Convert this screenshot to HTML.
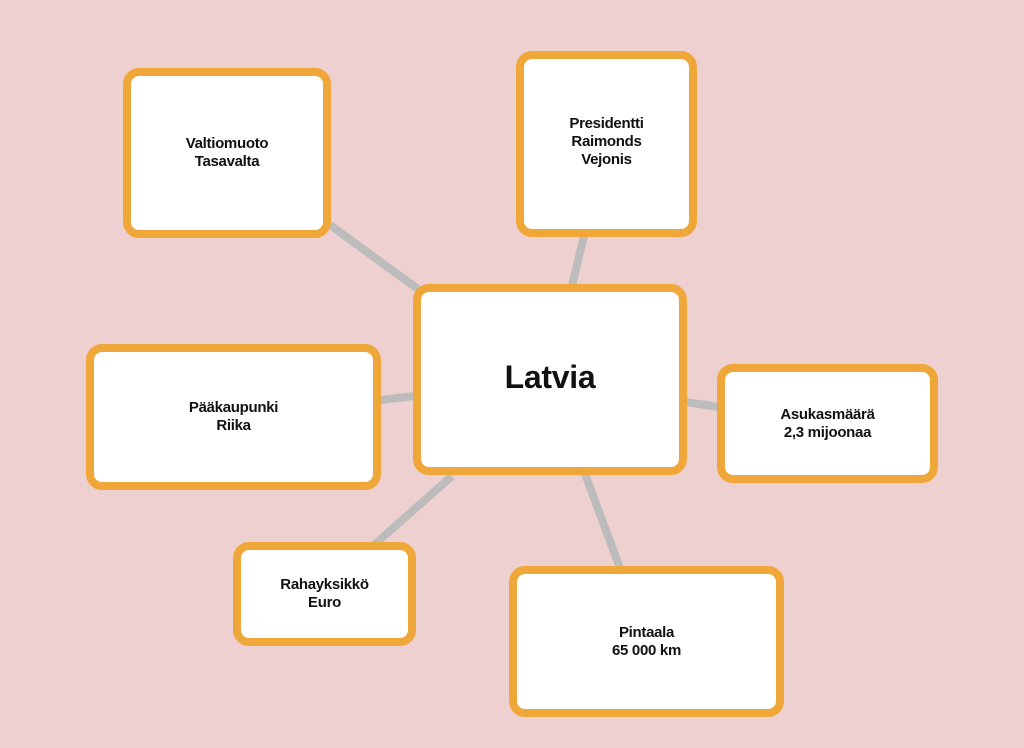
<!DOCTYPE html>
<html><head><meta charset="utf-8"><style>
html,body{margin:0;padding:0}
body{width:1024px;height:748px;background:#eed0d0;position:relative;overflow:hidden;font-family:"Liberation Sans",sans-serif}
.b{position:absolute;box-sizing:border-box;background:#fff;border:8px solid #f0a73a;border-radius:16px;display:flex;align-items:center;justify-content:center;text-align:center;font-weight:bold;font-size:15px;line-height:18px;color:#111;letter-spacing:-0.3px}
svg{position:absolute;left:0;top:0}
</style></head><body>
<svg width="1024" height="748"><g stroke="#bcbcbc" stroke-width="8" stroke-linecap="butt">
<line x1="330" y1="225" x2="422" y2="292"/>
<line x1="584" y1="236" x2="572" y2="286"/>
<line x1="380" y1="400" x2="415" y2="396"/>
<line x1="685" y1="402" x2="719" y2="407"/>
<line x1="375" y1="544" x2="452" y2="476"/>
<line x1="585" y1="474" x2="620" y2="568"/>
</g></svg>
<div class="b" style="left:123px;top:68px;width:208px;height:170px">Valtiomuoto<br>Tasavalta</div>
<div class="b" style="left:516px;top:51px;width:181px;height:186px;padding-bottom:4px">Presidentti<br>Raimonds<br>Vejonis</div>
<div class="b" style="left:413px;top:284px;width:274px;height:191px;font-size:32px;line-height:36px;padding-bottom:6px">Latvia</div>
<div class="b" style="left:86px;top:344px;width:295px;height:146px">Pääkaupunki<br>Riika</div>
<div class="b" style="left:717px;top:364px;width:221px;height:119px">Asukasmäärä<br>2,3 mijoonaa</div>
<div class="b" style="left:233px;top:542px;width:183px;height:104px">Rahayksikkö<br>Euro</div>
<div class="b" style="left:509px;top:566px;width:275px;height:151px">Pintaala<br>65 000 km</div>
</body></html>
